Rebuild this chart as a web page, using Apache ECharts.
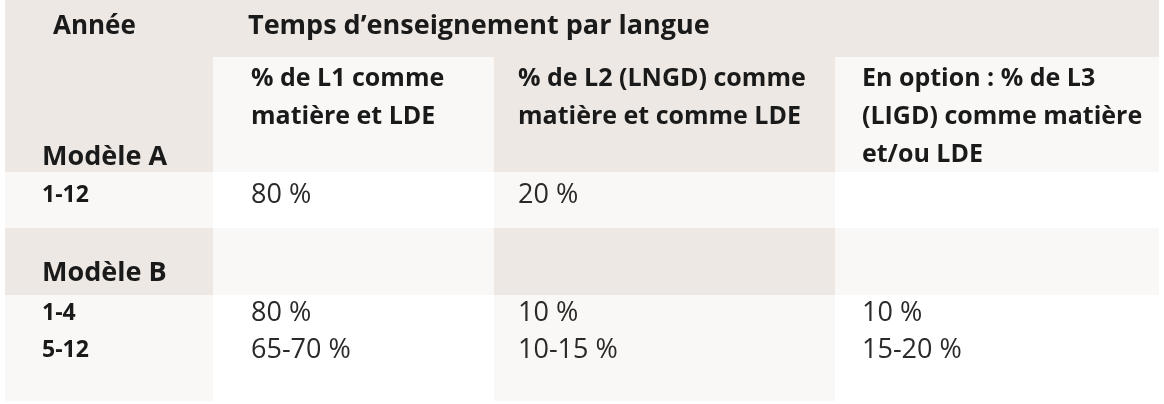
<!DOCTYPE html>
<html>
<head>
<meta charset="utf-8">
<script src="https://cdn.jsdelivr.net/npm/echarts@6/dist/echarts.min.js"></script>
<style>
html,body{margin:0;padding:0;background:#fff;}
#chart{width:1164px;height:404px;}
</style>
</head>
<body>
<div id="chart"></div>
<script>
// ---- data ----
const headerYear = 'Année';
const headerTime = 'Temps d’enseignement par langue';
const columnHeaders = [
  ['% de L1 comme', 'matière et LDE'],
  ['% de L2 (LNGD) comme', 'matière et comme LDE'],
  ['En option : % de L3', '(LIGD) comme matière', 'et/ou LDE']
];
const models = ['Modèle A', 'Modèle B'];
const years = ['1-12', '1-4', '5-12'];
const yearModel = [0, 1, 1];
const l1Share = ['80 %', '80 %', '65-70 %'];
const l2Share = ['20 %', '10 %', '10-15 %'];
const l3Share = ['', '10 %', '15-20 %'];

// ---- layout (not data) ----
const W = 1164, H = 404;
const colEdges = [5, 213, 494, 835, 1159];
const rowEdges = [0, 57, 172, 228, 295, 401];
const colTextX = [42, 251, 518, 862];
const BEIGE = '#ede8e3', LIGHT = '#f9f8f6', WHITE = '#ffffff';
const TXT = '#1a1a1a';
const FONT = '"Open Sans", "Noto Sans", sans-serif';

// background cells: [colStart, colEnd, rowIndex, fill]
const cells = [];
cells.push([0, 4, 0, BEIGE]);
const headerRowShades = [BEIGE, LIGHT, BEIGE, LIGHT];
const dataRowShades = [LIGHT, WHITE, LIGHT, WHITE];
[1, 3].forEach(r => headerRowShades.forEach((c, i) => cells.push([i, i + 1, r, c])));
[2, 4].forEach(r => dataRowShades.forEach((c, i) => cells.push([i, i + 1, r, c])));

// text items: [col, yCenter, text, weight, size, xOverride, color]
const texts = [];
texts.push([0, 26.5, headerYear, 700, 26, 53, TXT]);
texts.push([1, 26.5, headerTime, 700, 27, 248, TXT]);
const headLineY = [78.5, 116.5, 154.5];
columnHeaders.forEach((lines, ci) => lines.forEach((t, li) => texts.push([ci + 1, headLineY[li], t, 700, 25, null, TXT])));
const modelY = [157.5, 273.5];
models.forEach((m, i) => texts.push([0, modelY[i], m, 700, 27, null, TXT]));
const yearY = [195.5, 313.5, 350.5];
years.forEach((y, i) => {
  texts.push([0, yearY[i], y, 700, 23, null, TXT]);
  texts.push([1, yearY[i], l1Share[i], 400, 27, null, '#2a2a2a']);
  texts.push([2, yearY[i], l2Share[i], 400, 27, null, '#2a2a2a']);
  texts.push([3, yearY[i], l3Share[i], 400, 27, null, '#2a2a2a']);
});

const chart = echarts.init(document.getElementById('chart'), null, {renderer: 'canvas'});
chart.setOption({
  animation: false,
  backgroundColor: '#ffffff',
  grid: {left: 0, right: 0, top: 0, bottom: 0},
  xAxis: {type: 'value', min: 0, max: W, show: false},
  yAxis: {type: 'value', min: 0, max: H, inverse: true, show: false},
  series: [
    {
      type: 'custom',
      silent: true,
      data: cells,
      renderItem: function (params, api) {
        const c = cells[params.dataIndex];
        const p0 = api.coord([colEdges[c[0]], rowEdges[c[2]]]);
        const p1 = api.coord([colEdges[c[1]], rowEdges[c[2] + 1]]);
        return {
          type: 'rect',
          shape: {x: p0[0], y: p0[1], width: p1[0] - p0[0], height: p1[1] - p0[1]},
          style: {fill: c[3]}
        };
      }
    },
    {
      type: 'custom',
      silent: true,
      data: texts,
      z: 3,
      renderItem: function (params, api) {
        const t = texts[params.dataIndex];
        const x = t[5] != null ? t[5] : colTextX[t[0]];
        const p = api.coord([x, t[1]]);
        return {
          type: 'text',
          x: p[0], y: p[1],
          style: {
            text: t[2],
            fill: t[6],
            font: t[3] + ' ' + t[4] + 'px ' + FONT,
            textAlign: 'left',
            textVerticalAlign: 'middle'
          }
        };
      }
    }
  ]
});
</script>
</body>
</html>
